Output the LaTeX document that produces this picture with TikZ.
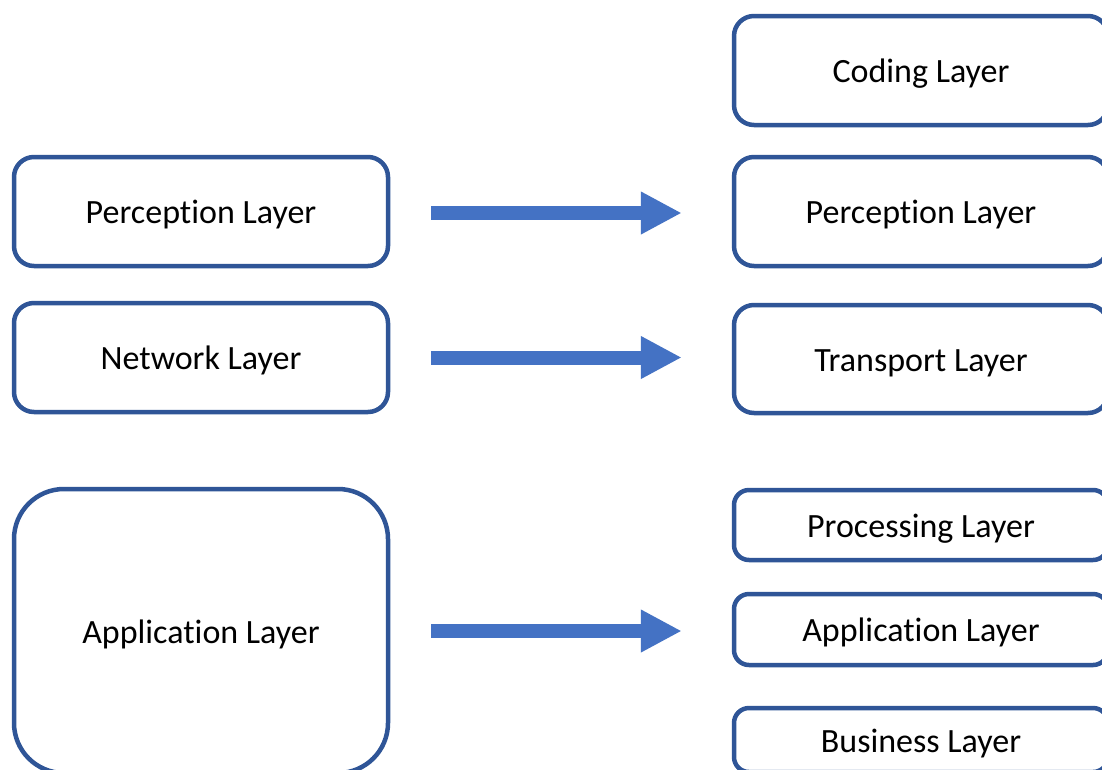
\documentclass[tikz,border=0pt]{standalone}
\usepackage{fontspec}
\setmainfont{Carlito}[Ligatures=NoCommon]
\usetikzlibrary{arrows.meta}
\definecolor{boxblue}{HTML}{2F5597}
\definecolor{arrblue}{HTML}{4472C4}
\tikzset{
  layerbox/.style={draw=boxblue, line width=4.5pt, rounded corners=20pt, fill=white,
    minimum width=374pt, inner sep=0pt, text height=26pt, text depth=2pt,
    font=\fontsize{34}{40}\selectfont, text=black},
  bigarrow/.style={draw=arrblue, line width=14pt,
    -{Triangle[length=41pt,width=40pt]}, shorten <=41pt, shorten >=50pt}
}
\begin{document}
\begin{tikzpicture}[x=1pt,y=-1pt]
\useasboundingbox[fill=white] (0,0) rectangle (1102,769);
% left column
\node[layerbox, minimum height=109pt] (pl) at (201,211.5) {Perception Layer};
\node[layerbox, minimum height=109pt] (nl) at (201,357.5) {Network Layer};
\node[layerbox, minimum height=284pt, rounded corners=50pt] (al) at (201,631) {Application Layer};
% right column
\node[layerbox, minimum height=109pt] (cr) at (921,70.5) {Coding Layer};
\node[layerbox, minimum height=109pt] (pr) at (921,211.5) {Perception Layer};
\node[layerbox, minimum height=108pt] (tr) at (921,359) {Transport Layer};
\node[layerbox, minimum height=70pt, rounded corners=15pt] (prr) at (921,525) {Processing Layer};
\node[layerbox, minimum height=71pt, rounded corners=15pt] (ar) at (921,629.5) {Application Layer};
\node[layerbox, minimum height=64pt, rounded corners=15pt] (br) at (921,740) {Business Layer};
% arrows
\draw[bigarrow] ([yshift=-1.5pt]pl.east) -- ([yshift=-1.5pt]pl.east -| pr.west);
\draw[bigarrow] (nl.east) -- (nl.east -| tr.west);
\draw[bigarrow] (al.east) -- (al.east -| ar.west);
\end{tikzpicture}
\end{document}
